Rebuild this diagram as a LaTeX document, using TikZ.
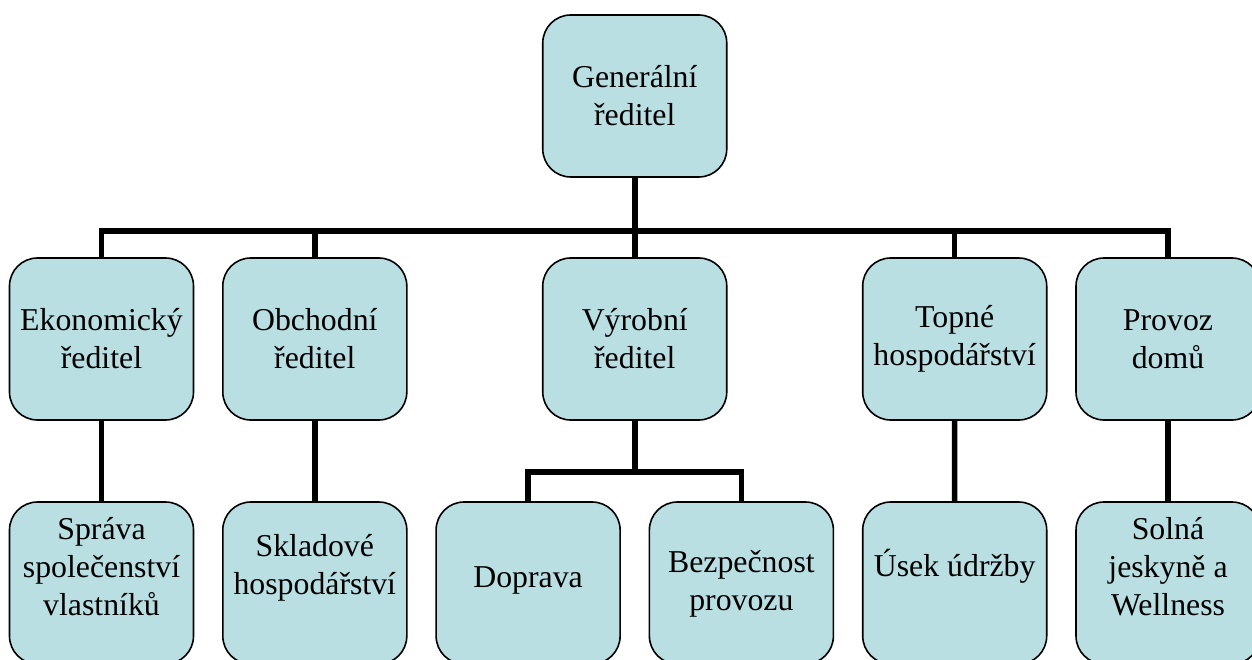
\documentclass[tikz,border=0pt]{standalone}
\usepackage{fontspec}
\setmainfont{Liberation Serif}
\definecolor{boxfill}{RGB}{185,223,227}
\usetikzlibrary{positioning}

\begin{document}
\begin{tikzpicture}[x=1pt, y=-1pt, node distance=213.3pt,
    box/.style={draw=black, line width=1.6pt, fill=boxfill, rounded corners=28pt,
      minimum width=184pt, minimum height=162pt, inner sep=0pt, align=center,
      font=\fontsize{31.8}{38}\selectfont},
    lift/.style={text depth=#1},
    conn/.style={line width=5.5pt}]

  \clip (0,0) rectangle (1252,660);

  \node[box]  (gen)  at (634.75,96)  {Generální\\ředitel};

  \node[box]  (eko)  at (101.5,339)  {Ekonomický\\ředitel};
  \node[box]  (obc)  [right of=eko]  {Obchodní\\ředitel};
  \node[box]  (vyr)  [right of=obc, node distance=319.95pt]  {Výrobní\\ředitel};
  \node[box]  (top)  [right of=vyr, node distance=319.95pt]  {Topné\\hospodářství};
  \node[box]  (pro)  [right of=top]  {Provoz\\domů};

  \node[box, lift=34pt]  (spr)  at (101.5,583)  {Správa\\společenství\\vlastníků};
  \node[box, lift=38pt]  (skl)  [right of=spr]  {Skladové\\hospodářství};
  \node[box, lift=12pt]  (dop)  [right of=skl]  {Doprava};
  \node[box, lift=6pt]   (bez)  [right of=dop]  {Bezpečnost\\provozu};
  \node[box, lift=40pt]  (use)  [right of=bez]  {Úsek údržby};
  \node[box, lift=34pt]  (sol)  [right of=use]  {Solná\\jeskyně a\\Wellness};

  \coordinate (bus)  at (634.75,231);
  \coordinate (vbus) at (634.75,472);

  \draw[conn] (eko.north) |- (bus) -| (pro.north);
  \draw[conn] (obc.north) |- (bus);
  \draw[conn] (top.north) |- (bus);
  \draw[conn] (gen) -- (vyr);

  \draw[conn] (eko) -- (spr);
  \draw[conn] (obc) -- (skl);
  \draw[conn] (vyr) -- (vbus);
  \draw[conn] (dop.north) |- (vbus) -| (bez.north);
  \draw[conn] (top) -- (use);
  \draw[conn] (pro) -- (sol);

\end{tikzpicture}
\end{document}
